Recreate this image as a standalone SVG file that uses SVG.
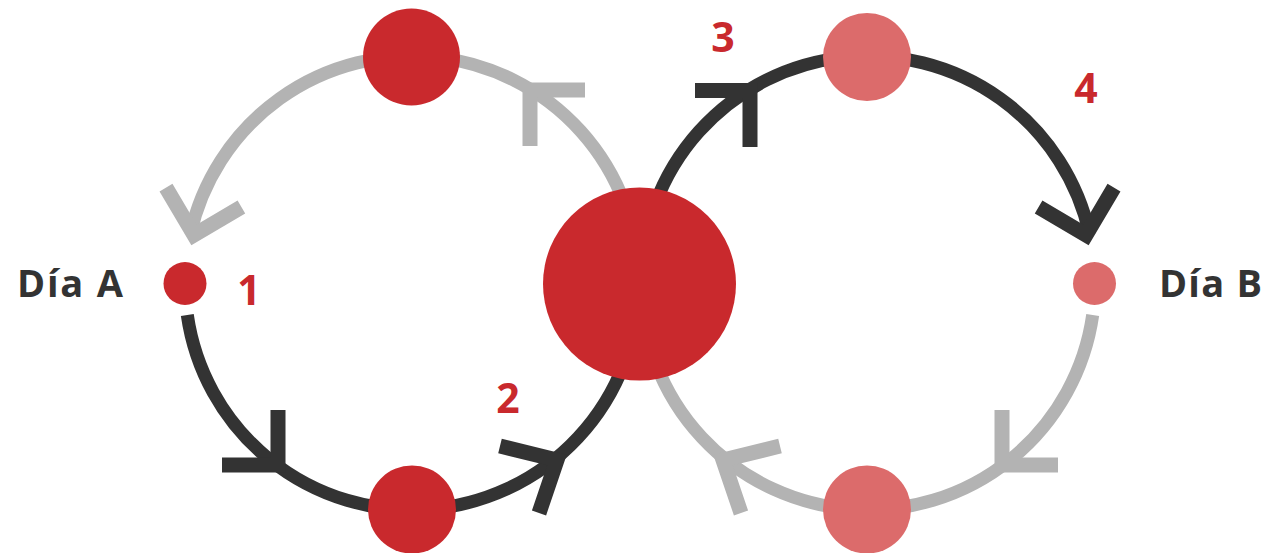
<svg xmlns="http://www.w3.org/2000/svg" width="1268" height="553" viewBox="0 0 1268 553">
<style>
.dark{fill:none;stroke:#333333;stroke-width:13}
.gray{fill:none;stroke:#b3b3b3;stroke-width:13}
.chev-d{fill:none;stroke:#333333;stroke-width:15;stroke-linecap:butt;stroke-linejoin:miter}
.chev-g{fill:none;stroke:#b3b3b3;stroke-width:15;stroke-linecap:butt;stroke-linejoin:miter}
.red{fill:#c9292d}
.light{fill:#dc6b6b}
.lbl{font-family:"Open Sans","Liberation Sans",sans-serif;font-weight:bold;font-size:38px;fill:#333333}
.num{font-family:"Open Sans","Liberation Sans",sans-serif;font-weight:bold;font-size:41px;fill:#c9292d;text-anchor:middle}
</style>
<g id="connectors">
<path class="gray" d="M 639 283 A 227 227 0 0 0 190.3 234.3"/>
<path class="dark" d="M 187.3 315 A 227 227 0 0 0 639 283"/>
<path class="dark" d="M 641 283 A 227 227 0 0 1 1089.7 234.3"/>
<path class="gray" d="M 1092.7 315 A 227 227 0 0 1 641 283"/>
<polyline class="chev-g" points="166,187.6 194,235 241.4,207"/>
<polyline class="chev-d" points="222,465 278,465 278,410"/>
<polyline class="chev-d" points="500,446 557,460 539,513"/>
<polyline class="chev-g" points="585,90 530,90 530,146"/>
<polyline class="chev-d" points="695,90.5 750,90.5 750,147"/>
<polyline class="chev-d" points="1114,187.6 1086,235 1038.6,207"/>
<polyline class="chev-g" points="1058,465 1002,465 1002,410"/>
<polyline class="chev-g" points="780,446 723,460 741,513"/>
</g>
<g id="node-dia-a"><circle class="red" cx="185" cy="283.5" r="21.5"/><text class="lbl" x="17" y="297" textLength="106" lengthAdjust="spacing">Día A</text></g>
<g id="node-left-top"><circle class="red" cx="411.5" cy="57" r="48.5"/></g>
<g id="node-left-bottom"><circle class="red" cx="412" cy="509.5" r="44"/></g>
<g id="node-center"><circle class="red" cx="639.5" cy="284" r="96.5"/></g>
<g id="node-right-top"><circle class="light" cx="867" cy="57" r="44"/></g>
<g id="node-right-bottom"><circle class="light" cx="867" cy="509.5" r="44"/></g>
<g id="node-dia-b"><circle class="light" cx="1094.5" cy="283.5" r="21.5"/><text class="lbl" x="1159" y="297" textLength="103" lengthAdjust="spacing">Día B</text></g>
<g id="labels">
<text class="num" x="249" y="305">1</text>
<text class="num" x="508" y="413">2</text>
<text class="num" x="723" y="52">3</text>
<text class="num" x="1086" y="103">4</text>
</g>
</svg>
